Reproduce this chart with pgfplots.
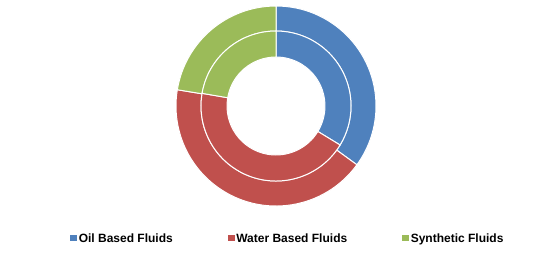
\documentclass[border=0pt]{standalone}
\usepackage{fontspec}
\setmainfont{Liberation Sans}
\usepackage{pgfplots}
\usepackage{pgfplotstable}
\pgfplotsset{compat=1.18}
\definecolor{cblue}{HTML}{4F81BD}
\definecolor{cred}{HTML}{C0504D}
\definecolor{cgreen}{HTML}{9BBB59}

% shares in percent, clockwise from the top
\pgfplotstableread{
ring  oil   water synth
outer 35.0  42.6  22.4
inner 33.7  44.0  22.3
}\donut

\pgfplotstablegetelem{0}{oil}\of\donut   \pgfmathsetmacro\oA{90-3.6*\pgfplotsretval}
\pgfplotstablegetelem{0}{water}\of\donut \pgfmathsetmacro\oB{\oA-3.6*\pgfplotsretval}
\pgfplotstablegetelem{1}{oil}\of\donut   \pgfmathsetmacro\iA{90-3.6*\pgfplotsretval}
\pgfplotstablegetelem{1}{water}\of\donut \pgfmathsetmacro\iB{\iA-3.6*\pgfplotsretval}

\newcommand\sector[5]{%
  \fill[#1, draw=white, line width=0.75pt]
    ([shift={(#2:#5)}]axis cs:276,160) arc[start angle=#2, end angle=#3, radius=#5]
    -- ([shift={(#3:#4)}]axis cs:276,160) arc[start angle=#3, end angle=#2, radius=#4]
    -- cycle;}

\begin{document}
\begin{tikzpicture}
\begin{axis}[
  hide axis, scale only axis,
  width=417.75pt, height=199.5pt,
  xmin=0, xmax=557, ymin=0, ymax=266,
  clip=false,
  legend columns=3,
  legend style={at={(axis cs:70,26.4)}, anchor=west, draw=none, fill=none,
    inner sep=0pt, font=\bfseries\fontsize{9}{10}\selectfont,
    nodes={inner sep=0pt},
    /tikz/every odd column/.append style={column sep=1.5pt},
    /tikz/every even column/.append style={column sep=41.25pt}},
  legend image code/.code={\fill[#1] (0pt,-0.75pt) rectangle (4.5pt,3.5pt);},
]
\path (rel axis cs:0,0) rectangle (rel axis cs:1,1);
% outer ring
\sector{cblue}{90}{\oA}{56.25pt}{75pt}
\sector{cred}{\oA}{\oB}{56.25pt}{75pt}
\sector{cgreen}{\oB}{-270}{56.25pt}{75pt}
% inner ring
\sector{cblue}{90}{\iA}{36.75pt}{56.25pt}
\sector{cred}{\iA}{\iB}{36.75pt}{56.25pt}
\sector{cgreen}{\iB}{-270}{36.75pt}{56.25pt}
\addlegendimage{cblue}\addlegendentry{Oil Based Fluids}
\addlegendimage{cred}\addlegendentry{Water Based Fluids}
\addlegendimage{cgreen}\addlegendentry{Synthetic Fluids}
\end{axis}
\end{tikzpicture}
\end{document}
